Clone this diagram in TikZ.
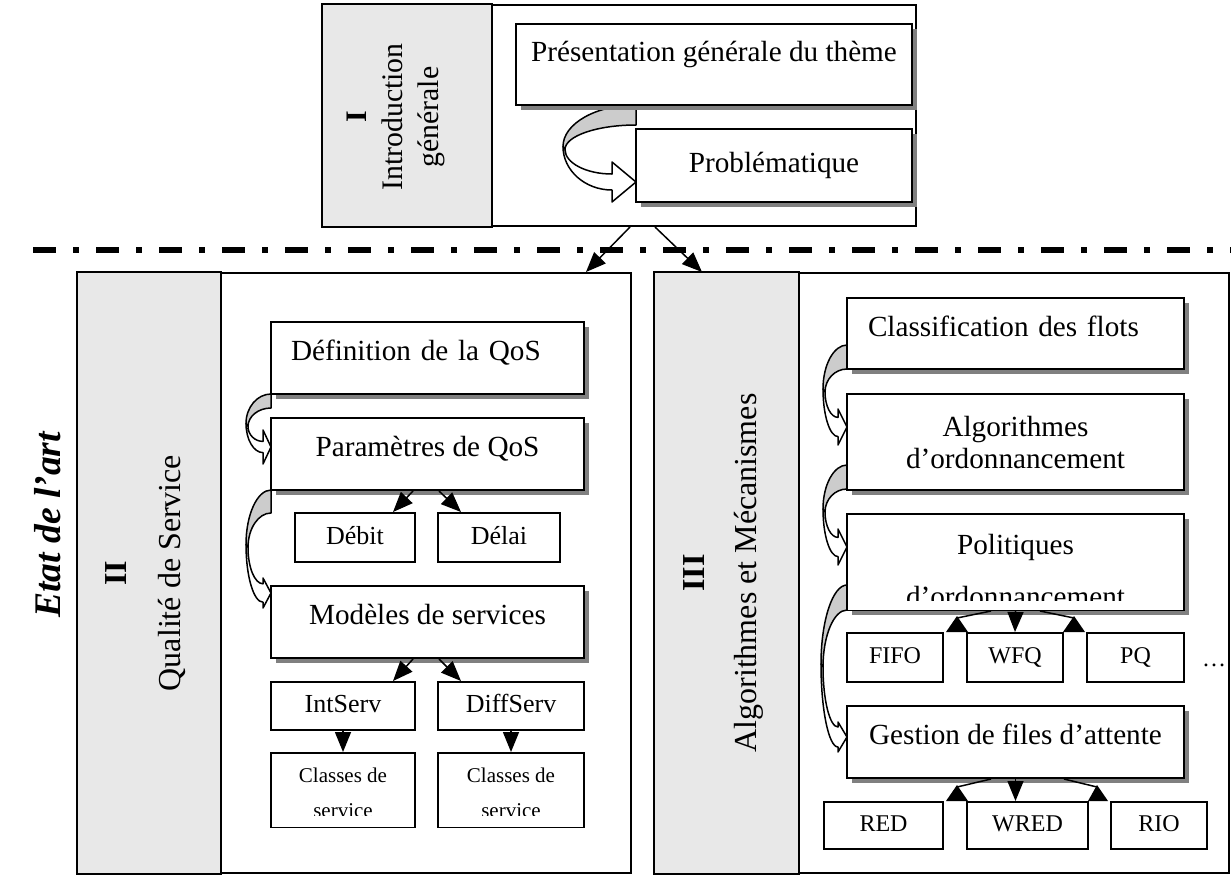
\documentclass[tikz,border=0pt]{standalone}
\usepackage{fontspec}
\setmainfont{Liberation Serif}
\usetikzlibrary{arrows.meta,shadows}

\definecolor{sidegray}{HTML}{E8E8E8}
\definecolor{shadegray}{HTML}{808080}
\definecolor{ribbongray}{HTML}{CCCCCC}

% right x, top y, tip y, depth, thickness, head length, head half width
\newcommand{\bendarrow}[7]{%
  \pgfmathsetmacro{\bxl}{#1-#4}
  \pgfmathsetmacro{\bym}{(#2+#3)/2+3}
  \pgfmathsetmacro{\bxi}{#1-#4+2}
  \pgfmathsetmacro{\byi}{\bym+3}
  \pgfmathsetmacro{\bxh}{#1-#6}
  \pgfmathsetmacro{\byq}{#3+0.4*#5}
  \pgfmathsetmacro{\byr}{#3-0.4*#5}
  \filldraw[ribbon, fill=ribbongray] (#1,#2) .. controls ({#1-0.55*#4},#2) and (\bxl,{\bym-0.55*(\bym-#2)}) .. (\bxl,\bym)
    -- (\bxi,\byi) .. controls (\bxi,{\byi-0.55*(\byi-#2-#5)}) and ({#1-0.55*(#4-2)},{#2+#5}) .. (#1,{#2+#5}) -- cycle;
  \filldraw[ribbon, fill=white] (\bxl,\bym) .. controls (\bxl,{\bym+0.55*(\byq-\bym)}) and ({\bxh-0.55*(\bxh-\bxl)},\byq) .. (\bxh,\byq)
    -- (\bxh,{#3+#7}) -- (#1,#3) -- (\bxh,{#3-#7}) -- (\bxh,\byr)
    .. controls ({\bxh-0.55*(\bxh-\bxi)},\byr) and (\bxi,{\byi+0.55*(\byr-\byi)}) .. (\bxi,\byi) -- cycle;
}

\begin{document}
\begin{tikzpicture}[x=0.5pt, y=-0.5pt,
    panel/.style = {draw, line width=1pt, fill=white, inner sep=0pt},
    sidebar/.style = {draw, line width=1pt, fill=sidegray},
    title/.style = {rotate=90, align=center, font=\fontsize{16}{27}\selectfont},
    bigbox/.style = {draw, line width=1pt, fill=white, inner sep=0pt, align=center,
        drop shadow={shadow xshift=2.5pt, shadow yshift=-2.5pt, fill=shadegray, opacity=1},
        font=\fontsize{14.6}{16}\selectfont},
    raised/.style = {text height=10.5pt, text depth=7.7pt},
    smallbox/.style = {draw, line width=1pt, fill=white, inner sep=0pt, font=\fontsize{13}{15}\selectfont,
        text height=9pt, text depth=2.5pt},
    tinybox/.style = {draw, line width=1pt, fill=white, inner sep=0pt, font=\fontsize{12}{14}\selectfont,
        text height=8.5pt, text depth=2.5pt},
    classbox/.style = {draw, line width=1pt, fill=white, inner sep=0pt, align=center,
        font=\fontsize{10.5}{17.5}\selectfont},
    ribbon/.style = {line width=0.75pt, line join=round},
    link/.style = {line width=0.75pt, -{Triangle[length=10pt,width=8pt]}},
    plain/.style = {line width=0.75pt},
    divider/.style = {line width=3pt, dash pattern=on 11.5pt off 8.5pt on 3pt off 8.5pt}]
  \useasboundingbox (0,0) rectangle (1231,875);

  % Introduction
  \node[panel, minimum width=296.5pt, minimum height=110.5pt] (intro) at (619.5,115.5) {};
  \filldraw[sidebar] (intro.north west) rectangle ([xshift=85pt]intro.south west);
  \node[title, font=\fontsize{14.9}{18}\selectfont] (introtitle) at (396,117) {\textbf{I}\\Introduction\\générale};
  \bendarrow{636}{105}{182}{73}{20}{24}{20}
  \node[bigbox, minimum width=198pt, minimum height=40.5pt, text height=10.5pt, text depth=13.2pt] (theme) at (714,64.5) {Présentation générale du thème};
  \node[bigbox, minimum width=138pt, minimum height=36.5pt] (pb) at (774,165.5) {Problématique};

  \draw[divider] (33,250) -- (1231,250);

  % Etat de l'art
  \node[rotate=90, font=\fontsize{18.8}{22}\selectfont\bfseries\itshape] (etat) at (48,525) {Etat de l’art};

  % Qualite de service
  \node[panel, minimum width=276.5pt, minimum height=300pt] (qos) at (354.5,573) {};
  \filldraw[sidebar] (qos.north west) rectangle ([xshift=72pt]qos.south west);
  \node[title] (qostitle) at (146,573) {\textbf{II}\\Qualité de Service};
  \bendarrow{271}{394}{447}{25}{14}{8}{17}
  \bendarrow{271}{490}{593}{25}{23}{8}{15}
  \node[bigbox, raised, minimum width=156.5pt, minimum height=36pt, inner xsep=10pt, text width=136.5pt, align=left] (defqos) at (427.5,358) {Définition de la QoS};
  \node[bigbox, raised, minimum width=156.5pt, minimum height=36pt] (params) at (427.5,454) {Paramètres de QoS};
  \node[smallbox, minimum width=60pt, minimum height=24.5pt] (debit) at (355,537.5) {Débit};
  \node[smallbox, minimum width=61pt, minimum height=24.5pt] (delai) at (499,537.5) {Délai};
  \node[bigbox, raised, minimum width=156.5pt, minimum height=36pt] (models) at (427.5,622) {Modèles de services};
  \node[smallbox, minimum width=72pt, minimum height=24pt] (intserv) at (343,706) {IntServ};
  \node[smallbox, minimum width=73pt, minimum height=24pt] (diffserv) at (511,706) {DiffServ};
  \node[classbox, minimum width=72pt, minimum height=37pt] (classes1) at (343,790) {\rule{0pt}{10.5pt}Classes de\\service};
  \node[classbox, minimum width=73pt, minimum height=37pt] (classes2) at (511,790) {\rule{0pt}{10.5pt}Classes de\\service};
  \fill[white] ([xshift=1pt,yshift=0.6pt]classes1.south west) rectangle ([xshift=-1pt,yshift=6pt]classes1.south east);
  \fill[white] ([xshift=1pt,yshift=0.6pt]classes2.south west) rectangle ([xshift=-1pt,yshift=6pt]classes2.south east);

  % Algorithmes et mecanismes
  \node[panel, minimum width=287pt, minimum height=300pt] (algo) at (942,573) {};
  \filldraw[sidebar] (algo.north west) rectangle ([xshift=72.5pt]algo.south west);
  \node[title, font=\fontsize{16}{26}\selectfont] (algotitle) at (723,573) {\textbf{III}\\Algorithmes et Mécanismes};
  \bendarrow{847}{345}{427}{24}{24}{9}{18}
  \bendarrow{847}{465}{547}{24}{24}{9}{18}
  \bendarrow{847}{585}{737}{26}{25}{9}{15}
  \node[bigbox, raised, minimum width=168.5pt, minimum height=35.5pt, inner xsep=10.5pt, text width=147.5pt, align=left] (classif) at (1015.5,333.5) {Classification des flots};
  \node[bigbox, minimum width=168.5pt, minimum height=48pt] (sched) at (1015.5,442) {Algorithmes\\d’ordonnancement};
  \node[bigbox, minimum width=168.5pt, minimum height=48pt, font=\fontsize{14.6}{26}\selectfont] (policy) at (1015.5,562) {\rule{0pt}{19pt}Politiques\\d’ordonnancement};
  \fill[white] ([xshift=1pt,yshift=0.6pt]policy.south west) rectangle ([xshift=-1pt,yshift=5pt]policy.south east);
  \node[tinybox, minimum width=48pt, minimum height=24.5pt] (fifo) at (895,657.5) {FIFO};
  \node[tinybox, minimum width=48pt, minimum height=24.5pt] (wfq) at (1015,657.5) {WFQ};
  \node[tinybox, minimum width=48.5pt, minimum height=24.5pt] (pq) at (1135.5,657.5) {PQ};
  \node[font=\fontsize{12}{14}\selectfont] (more) at (1214,665) {…};
  \node[bigbox, raised, minimum width=168.5pt, minimum height=36pt] (queue) at (1015.5,742) {Gestion de files d’attente};
  \node[tinybox, minimum width=59.5pt, minimum height=23.5pt] (red) at (883.5,825.5) {RED};
  \node[tinybox, minimum width=60.5pt, minimum height=23.5pt] (wred) at (1027.5,825.5) {WRED};
  \node[tinybox, minimum width=48pt, minimum height=23.5pt] (rio) at (1159,825.5) {RIO};

  % connectors
  \draw[link] ([xshift=5.25pt]intro.south) -- ([xshift=-23pt]qos.north east);
  \draw[link] ([xshift=17.75pt]intro.south) -- ([xshift=24pt]algo.north west);
  \draw[link] ([xshift=-7.25pt]params.south) -- ([xshift=19pt]debit.north);
  \draw[link] ([xshift=5.75pt]params.south) -- ([xshift=-19pt]delai.north);
  \draw[link] ([xshift=-7.25pt]models.south) -- ([xshift=25pt]intserv.north);
  \draw[link] ([xshift=5.75pt]models.south) -- ([xshift=-25pt]diffserv.north);
  \draw[link] (intserv.south) -- (classes1.north);
  \draw[link] (diffserv.south) -- (classes2.north);

  \draw[link] (policy.south) -- (wfq.north);
  \draw[plain] ([xshift=-12.25pt]policy.south) -- ([xshift=6.5pt,yshift=7pt]fifo.north east);
  \fill ([xshift=1pt]fifo.north east) -- ([xshift=6.5pt,yshift=8pt]fifo.north east) -- ([xshift=12pt]fifo.north east) -- cycle;
  \draw[plain] ([xshift=12.25pt]policy.south) -- ([xshift=-6pt,yshift=7pt]pq.north west);
  \fill ([xshift=-11.5pt]pq.north west) -- ([xshift=-6pt,yshift=8pt]pq.north west) -- ([xshift=-0.5pt]pq.north west) -- cycle;

  \draw[link] ([xshift=-6pt]wred.north |- queue.south) -- ([xshift=-6pt]wred.north);
  \draw[plain] ([xshift=-12.25pt]queue.south) -- ([xshift=6.5pt,yshift=7pt]red.north east);
  \fill ([xshift=1pt]red.north east) -- ([xshift=6.5pt,yshift=8pt]red.north east) -- ([xshift=12pt]red.north east) -- cycle;
  \draw[plain] ([xshift=24.25pt]queue.south) -- ([xshift=-6.5pt,yshift=7pt]rio.north west);
  \fill ([xshift=-11pt]rio.north west) -- ([xshift=-6.5pt,yshift=8pt]rio.north west) -- ([xshift=-1pt]rio.north west) -- cycle;
\end{tikzpicture}
\end{document}
